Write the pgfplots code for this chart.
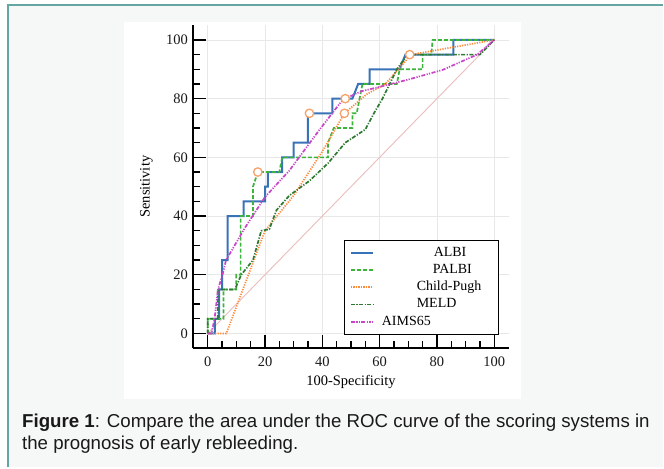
\documentclass[border=0pt]{standalone}
\usepackage{fontspec}
\setmainfont{Liberation Serif}
\newfontfamily\capfont{Liberation Sans}
\usepackage{pgfplots}
\pgfplotsset{compat=1.18}

\definecolor{bgbox}{HTML}{F6F8F8}
\definecolor{framecol}{HTML}{63A6A2}
\definecolor{albi}{HTML}{3873B8}
\definecolor{palbi}{HTML}{3CB43C}
\definecolor{cp}{HTML}{FF8A3A}
\definecolor{meld}{HTML}{2E7A32}
\definecolor{aims}{HTML}{C845C8}
\definecolor{diag}{HTML}{EBBDBD}
\definecolor{cut}{HTML}{F4A36C}

\begin{document}
\begin{tikzpicture}
% page frame, light box and white figure area
\path (0,0) rectangle (664bp,468bp);
\fill[bgbox] (8bp,0) rectangle (664bp,463bp);
\draw[framecol, line width=2bp] (8bp,0) -- (8bp,463bp) -- (664bp,463bp);
\fill[white] (124bp,68bp) rectangle (522bp,446bp);

\begin{axis}[
    at={(193.65bp,119.3bp)}, anchor=south west,
    scale only axis, width=315.7bp, height=323.4bp,
    xmin=-5, xmax=105, ymin=-5, ymax=105,
    axis x line*=bottom, axis y line*=left,
    axis line style={line width=2bp, -},
    xtick={0,20,...,100}, ytick={0,20,...,100},
    minor tick num=3,
    tick align=inside,
    major tick length=13bp, minor tick length=7bp,
    every tick/.style={black, line width=1.3bp},
    grid=major, major grid style={black!9, line width=0.8bp},
    /pgf/number format/assume math mode=true,
    tick label style={font=\fontsize{14.5bp}{16bp}\selectfont, text=black!90},
    yticklabel style={xshift=-2bp},
    xticklabel style={yshift=-5bp},
    xlabel={100-Specificity}, ylabel={Sensitivity},
    every axis x label/.style={at={(axis description cs:0.5,0)}, yshift=-34bp, anchor=center, font=\fontsize{14.5bp}{16bp}\selectfont},
    every axis y label/.style={at={(axis description cs:0,0.5)}, xshift=-47bp, rotate=90, anchor=center, font=\fontsize{14.5bp}{16bp}\selectfont},
    legend cell align=left,
    legend image code/.code={\draw[#1] (0bp,0bp) -- (22bp,0bp);},
    legend style={at={(axis cs:47.5,32)}, anchor=north west, draw=black, line width=1.2bp, fill=white,
        font=\fontsize{14bp}{16bp}\selectfont, inner xsep=5.5bp, inner ysep=5.5bp, row sep=3.3bp,
        nodes={inner sep=0pt, text height=10.5bp, text depth=3.5bp}},
    clip=false,
]
% chance line
\addplot[diag, line width=0.9bp, forget plot] coordinates {(0,0) (100,100)};

\addplot[albi, line width=2bp] coordinates {
    (0,0) (2.5,0) (2.5,5) (4,5) (4,15) (5,15) (5,25) (7,25) (7,40) (12.5,40) (12.5,45)
    (20,45) (20,50) (21,50) (21,55) (26,55) (26,60) (30,60) (30,65) (35,65) (35,75)
    (43.5,75) (43.5,80) (50.5,80) (52.5,85) (56.5,85) (56.5,90) (67,90) (69,95)
    (85.7,95) (85.7,100) (100,100)
};
\addlegendentry{\makebox[119bp][l]{\hspace{60bp}ALBI}}

\addplot[palbi, line width=1.7bp, dash pattern=on 4bp off 2bp] coordinates {
    (0,0) (0,5) (5.5,5) (5.5,15) (10,15) (10,20) (11.5,20) (11.5,40) (15.8,40) (15.8,50)
    (17.5,55) (25,55) (26,60) (42,60) (42,65) (44,70) (50.5,70) (50.5,75) (52,75)
    (54,85) (66,85) (67,90) (75,90) (75,95) (78,95) (78.5,100) (100,100)
};
\addlegendentry{\makebox[119bp][l]{\hspace{59bp}PALBI}}

\addplot[cp, line width=1.7bp, dash pattern=on 1.2bp off 1.3bp] coordinates {
    (0,0) (6.5,0) (20,35) (30,47) (40,62) (47.7,75) (55.5,81.5) (62,85) (71,95) (100,100)
};
\addlegendentry{\makebox[119bp][l]{\hspace{43bp}Child-Pugh}}

\addplot[meld, line width=1.7bp, dash pattern=on 4bp off 1.5bp on 1.2bp off 1.5bp] coordinates {
    (0,0) (0,5) (3.5,5) (3.5,15) (9.5,15) (11.7,20) (15.8,25) (18.7,35) (21.5,35.5)
    (24,42) (28.5,47) (35.5,52) (42,58) (48,65) (55,69.5) (58,75) (61,80) (63.5,85)
    (66,90) (69.7,95) (95,95) (100,100)
};
\addlegendentry{\makebox[119bp][l]{\hspace{43bp}MELD}}

\addplot[aims, line width=1.7bp, dash pattern=on 4bp off 1.5bp on 1.2bp off 1.2bp on 1.2bp off 1.5bp] coordinates {
    (0,0) (1.3,0) (2.4,5) (3.6,15) (5.3,20.5) (6.4,25) (13,36) (20,46.5) (28.5,55.5)
    (38.7,69) (46.6,79) (48,80) (53.5,82.5) (60,84) (70,86.5) (82,89.8) (94,95) (100,100)
};
\addlegendentry{\makebox[119bp][l]{\hspace{8bp}AIMS65}}

% cut-off points
\addplot[only marks, mark=*, mark size=4.2bp, draw=cut, fill=white, line width=1.3bp, forget plot]
    coordinates {(17.5,55) (35.5,75) (48,80) (47.7,75) (70.5,95)};
\end{axis}

\node[anchor=base west, font=\capfont\fontsize{18.7bp}{22bp}\selectfont, text=black!90, inner sep=0pt]
    at (22bp,40bp) {{\bfseries Figure 1}: Compare the area under the ROC curve of the scoring systems in};
\node[anchor=base west, font=\capfont\fontsize{18.7bp}{22bp}\selectfont, text=black!90, inner sep=0pt]
    at (22bp,18bp) {the prognosis of early rebleeding.};
\end{tikzpicture}
\end{document}
